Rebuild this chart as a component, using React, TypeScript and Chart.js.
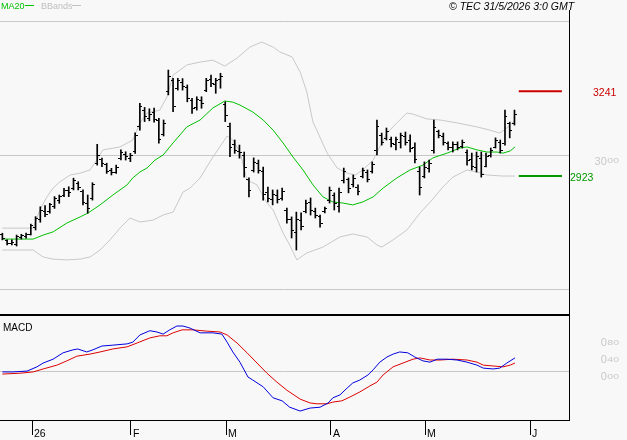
import React, { useEffect, useRef } from 'react';
import { Chart, registerables } from 'chart.js';

Chart.register(...registerables);

// ---- Daily price bars (index 0 = first session shown) ----
const HIGH = [
  27.09, 26.84, 26.84, 27.02, 27.05, 27.09, 27.43, 27.71, 28.08, 28.12,
  28.21, 28.46, 28.52, 28.77, 28.83, 29.15, 29.02, 28.71, 28.52, 28.98,
  30.42, 29.90, 29.71, 29.52, 29.64, 30.21, 30.14, 30.08, 30.85, 31.95,
  31.80, 31.75, 31.78, 31.39, 31.33, 33.20, 32.89, 32.89, 32.88, 32.64,
  32.14, 32.20, 32.20, 32.89, 33.01, 32.89, 33.08, 32.01, 31.21, 30.58,
  30.39, 30.13, 29.16, 29.91, 29.83, 29.57, 28.82, 28.71, 28.71, 28.78,
  28.03, 27.70, 27.88, 27.85, 28.33, 28.41, 28.03, 27.77, 28.07, 28.82,
  28.60, 28.78, 29.53, 29.16, 29.27, 28.90, 29.53, 29.46, 29.76, 31.33,
  30.84, 31.03, 30.69, 30.69, 30.84, 30.88, 30.77, 30.47, 29.57, 29.76,
  29.83, 31.33, 30.95, 30.84, 30.51, 30.51, 30.51, 30.58, 30.21, 30.09,
  30.13, 30.13, 30.09, 30.28, 30.66, 30.58, 31.70, 31.25, 31.70,
];
const LOW = [
  26.84, 26.65, 26.65, 26.61, 26.87, 26.90, 27.02, 27.21, 27.50, 27.71,
  27.84, 28.02, 28.21, 28.46, 28.46, 28.71, 28.71, 28.15, 27.84, 28.33,
  29.64, 29.58, 29.33, 29.27, 29.33, 29.83, 29.83, 29.77, 30.08, 30.95,
  31.27, 31.30, 31.25, 30.46, 30.73, 32.27, 31.64, 32.45, 32.45, 32.01,
  31.58, 31.70, 31.77, 32.39, 32.58, 32.33, 32.52, 31.27, 29.96, 30.08,
  29.90, 29.19, 28.45, 29.38, 29.34, 28.33, 28.26, 28.15, 28.22, 28.33,
  27.47, 26.91, 26.46, 27.21, 27.85, 27.77, 27.66, 27.32, 27.85, 28.22,
  27.96, 27.88, 28.97, 28.60, 28.82, 28.52, 29.16, 29.01, 29.34, 30.02,
  30.39, 30.58, 30.32, 30.21, 30.28, 30.39, 30.13, 29.72, 28.52, 29.16,
  29.38, 30.09, 30.66, 30.39, 30.21, 30.13, 30.21, 30.28, 29.64, 29.46,
  29.38, 29.19, 29.57, 29.94, 30.28, 30.09, 30.39, 30.66, 31.14,
];
const OPEN = [
  27.05, 26.80, 26.70, 26.65, 26.92, 26.98, 27.05, 27.30, 27.60, 27.90,
  27.90, 28.10, 28.30, 28.50, 28.70, 28.75, 28.95, 28.65, 28.20, 28.40,
  29.70, 29.85, 29.65, 29.45, 29.35, 29.90, 30.05, 29.90, 30.15, 31.10,
  31.70, 31.40, 31.60, 31.30, 30.80, 32.40, 32.80, 32.50, 32.75, 32.55,
  32.05, 31.80, 32.05, 32.45, 32.85, 32.65, 32.85, 31.90, 31.10, 30.40,
  30.15, 30.00, 29.10, 29.45, 29.70, 29.40, 28.60, 28.35, 28.50, 28.40,
  27.95, 27.60, 27.10, 27.55, 27.90, 28.25, 27.90, 27.70, 27.90, 28.30,
  28.50, 28.10, 29.05, 29.10, 28.90, 28.80, 29.20, 29.35, 29.40, 30.20,
  30.75, 30.65, 30.60, 30.40, 30.50, 30.70, 30.55, 30.30, 29.40, 29.20,
  29.50, 30.20, 30.90, 30.70, 30.45, 30.30, 30.40, 30.35, 30.10, 29.85,
  29.55, 29.90, 29.60, 30.00, 30.30, 30.50, 30.45, 31.20, 31.20,
];
const CLOSE = [
  26.90, 26.70, 26.75, 26.95, 27.00, 27.05, 27.38, 27.65, 27.95, 27.80,
  28.15, 28.40, 28.45, 28.70, 28.60, 29.05, 28.80, 28.25, 28.00, 28.90,
  30.00, 29.70, 29.40, 29.35, 29.55, 30.10, 29.95, 30.00, 30.75, 31.85,
  31.45, 31.55, 31.35, 30.60, 31.20, 32.95, 31.85, 32.80, 32.60, 32.15,
  31.75, 32.10, 31.95, 32.80, 32.70, 32.80, 32.95, 31.50, 30.30, 30.20,
  30.10, 29.55, 28.70, 29.75, 29.45, 28.55, 28.40, 28.55, 28.35, 28.65,
  27.60, 27.20, 27.60, 27.35, 28.20, 27.95, 27.75, 27.45, 28.00, 28.70,
  28.20, 28.60, 29.40, 28.75, 29.15, 28.65, 29.45, 29.10, 29.65, 31.10,
  30.50, 30.90, 30.45, 30.60, 30.75, 30.50, 30.25, 29.85, 28.80, 29.55,
  29.70, 31.05, 30.75, 30.50, 30.30, 30.40, 30.30, 30.50, 29.80, 29.60,
  29.95, 29.30, 29.95, 30.20, 30.55, 30.20, 31.45, 30.95, 31.55,
];

// ---- Indicators: [bar index, value] ----
const MA20_LINE: [number, number][] = [
  [0, 26.87], [6.5, 26.87], [8.6, 27.02], [10.7, 27.14], [13.6, 27.47], [16.4, 27.70],
  [18.1, 27.85], [20.6, 28.15], [23.3, 28.52], [26.3, 28.90], [27.5, 29.16], [29.0, 29.38],
  [30.5, 29.53], [32.2, 29.83], [33.9, 30.02], [36.0, 30.47], [38.9, 31.07], [41.7, 31.33],
  [44.4, 31.78], [46.9, 32.04], [48.6, 32.00], [50.1, 31.89], [52.8, 31.63], [55.0, 31.33],
  [57.1, 30.95], [59.2, 30.47], [61.3, 29.94], [63.4, 29.46], [65.5, 28.90], [67.6, 28.45],
  [69.7, 28.26], [71.8, 28.22], [73.9, 28.15], [76.0, 28.26], [78.2, 28.45], [80.3, 28.78],
  [83.2, 29.16], [86.0, 29.46], [88.7, 29.64], [90.8, 29.91], [93.8, 30.09], [96.5, 30.28],
  [98.0, 30.32], [100.1, 30.21], [102.2, 30.13], [104.3, 30.13], [105.6, 30.09],
  [107.1, 30.17], [108.1, 30.32],
];
const BB_UPPER: [number, number][] = [
  [0, 27.28], [6.5, 27.28], [7.9, 27.96], [9.4, 28.45], [10.7, 28.78], [12.1, 29.01],
  [14.3, 29.27], [16.4, 29.34], [18.5, 29.46], [19.9, 29.83], [21.2, 30.21], [24.8, 30.32],
  [27.5, 30.58], [29.0, 31.21], [30.5, 31.59], [33.2, 31.70], [34.7, 32.19], [36.0, 33.01],
  [38.9, 33.39], [41.7, 33.50], [44.4, 33.57], [46.9, 33.35], [49.5, 33.65], [52.2, 34.06],
  [54.7, 34.25], [57.1, 34.06], [58.5, 33.88], [61.1, 33.69], [62.8, 33.13], [64.2, 32.38],
  [65.5, 31.25], [66.3, 30.95], [68.5, 30.09], [70.6, 29.53], [72.7, 29.34], [74.4, 29.27],
  [76.0, 29.46], [78.2, 29.83], [79.6, 30.32], [81.1, 30.84], [83.2, 31.22], [85.3, 31.59],
  [86.6, 31.55], [89.5, 31.37], [92.3, 31.33], [95.9, 31.22], [100.1, 31.07], [102.8, 30.95],
  [104.9, 30.84], [106.4, 31.03], [108.1, 31.33],
];
const BB_LOWER: [number, number][] = [
  [0, 26.46], [6.5, 26.46], [8.6, 26.20], [10.7, 26.12], [13.6, 26.09], [16.4, 26.12],
  [18.5, 26.20], [20.6, 26.46], [22.7, 26.84], [24.8, 27.28], [26.9, 27.66], [29.0, 27.51],
  [31.8, 27.58], [33.9, 27.77], [36.0, 27.88], [38.1, 28.63], [39.6, 28.78], [41.7, 29.16],
  [44.4, 29.94], [47.4, 30.73], [48.6, 30.58], [50.1, 30.13], [51.6, 29.08], [53.7, 28.90],
  [55.8, 28.22], [57.1, 27.96], [59.2, 27.10], [60.6, 26.65], [62.1, 26.09], [64.2, 26.35],
  [67.6, 26.57], [71.2, 26.95], [73.9, 27.06], [76.9, 26.95], [79.0, 26.65], [80.0, 26.57],
  [82.4, 26.84], [85.3, 27.21], [88.1, 27.85], [90.6, 28.33], [92.9, 28.82], [95.0, 29.19],
  [98.0, 29.46], [100.1, 29.38], [102.2, 29.27], [105.6, 29.23], [108.1, 29.23],
];
const MACD_LINE: [number, number][] = [
  [0, -0.01], [2.2, -0.01], [5.2, 0.01], [7.3, 0.11], [8.6, 0.20], [10.7, 0.29], [12.8, 0.44],
  [14.9, 0.51], [15.9, 0.53], [17.8, 0.46], [19.1, 0.51], [21.0, 0.60], [23.3, 0.62],
  [26.3, 0.65], [27.5, 0.69], [29.0, 0.86], [31.1, 0.96], [32.6, 0.93], [33.9, 0.88],
  [35.3, 0.98], [36.8, 1.07], [38.1, 1.07], [39.6, 1.02], [41.7, 0.91], [44.4, 0.91],
  [46.3, 0.88], [47.4, 0.69], [48.6, 0.46], [50.1, 0.22], [51.8, -0.13], [52.8, -0.20],
  [55.0, -0.36], [57.1, -0.62], [59.0, -0.69], [60.6, -0.84], [62.8, -0.93], [64.9, -0.86],
  [67.0, -0.84], [68.7, -0.74], [69.7, -0.62], [71.2, -0.55], [72.7, -0.39], [73.9, -0.27],
  [75.4, -0.20], [77.1, -0.08], [78.2, 0.04], [79.6, 0.22], [81.1, 0.34], [82.4, 0.41],
  [83.8, 0.46], [85.5, 0.44], [87.0, 0.34], [88.7, 0.25], [90.2, 0.22], [91.7, 0.29],
  [93.8, 0.29], [95.9, 0.27], [98.0, 0.22], [100.1, 0.15], [101.4, 0.08], [103.5, 0.06],
  [104.9, 0.08], [106.4, 0.20], [108.1, 0.32],
];
const SIGNAL_LINE: [number, number][] = [
  [0, -0.06], [3.7, -0.04], [6.5, -0.01], [8.6, 0.06], [11.5, 0.15], [13.6, 0.25],
  [15.7, 0.36], [18.5, 0.41], [20.6, 0.46], [23.3, 0.53], [26.3, 0.58], [28.4, 0.67],
  [31.1, 0.79], [33.2, 0.84], [34.7, 0.84], [36.0, 0.91], [37.9, 0.98], [40.2, 0.98],
  [43.1, 0.95], [45.9, 0.93], [47.4, 0.86], [49.5, 0.67], [51.6, 0.44], [53.7, 0.20],
  [55.8, -0.04], [57.9, -0.25], [60.0, -0.44], [62.8, -0.65], [64.9, -0.74], [66.3, -0.76],
  [68.5, -0.76], [69.7, -0.72], [71.6, -0.69], [73.3, -0.60], [75.4, -0.48], [77.5, -0.34],
  [79.0, -0.25], [80.3, -0.08], [82.4, 0.11], [84.5, 0.20], [86.6, 0.29], [88.1, 0.32],
  [90.2, 0.27], [92.3, 0.27], [95.0, 0.29], [98.0, 0.27], [100.1, 0.22], [101.4, 0.15],
  [103.5, 0.13], [105.6, 0.11], [107.1, 0.15], [108.1, 0.20],
];

// ---- Levels, grid and axis labels ----
const RESISTANCE = 32.41;
const SUPPORT = 29.23;
const LEVEL_SPAN = [108.9, 118.0];
const PRICE_GRID = [25, 30, 35];
const PRICE_LABELS = [30];
const MACD_GRID = [0];
const MACD_LABELS = [0.8, 0.4, 0];
const MONTH_TICKS = [6.25, 27.1, 47.2, 69.3, 89.2, 111.3];
const MONTH_LABELS = ['26', 'F', 'M', 'A', 'M', 'J'];
const COPYRIGHT = '\u00A9 TEC 31/5/2026 3:0 GMT';

const X_MIN = -0.5;
const X_MAX = 119.5;
const PRICE_MIN = 24.1016;
const PRICE_MAX = 35.449;
const MACD_MIN = -1.141;
const MACD_MAX = 1.306;

const FONT = '"Liberation Sans", Arial, sans-serif';
const toXY = (pts: [number, number][]) => pts.map(([x, y]) => ({ x, y }));

// value like 30 -> "30" with raised "00"
function drawDecimalLabel(ctx: CanvasRenderingContext2D, value: number, right: number, baseline: number, color: string) {
  const [whole, frac] = value.toFixed(2).split('.');
  ctx.save();
  ctx.fillStyle = color;
  ctx.textAlign = 'right';
  ctx.textBaseline = 'alphabetic';
  ctx.font = `10.5px ${FONT}`;
  const fracW = ctx.measureText(frac).width;
  ctx.save();
  ctx.translate(right, baseline - 1.7);
  ctx.scale(1, 0.65);
  ctx.fillText(frac, 0, 0);
  ctx.restore();
  ctx.font = `11px ${FONT}`;
  ctx.fillText(whole, right - fracW - 0.5, baseline);
  ctx.restore();
}

const ohlcTicks = {
  id: 'ohlcTicks',
  afterDatasetsDraw(chart: any) {
    const { ctx } = chart;
    const xs = chart.scales.x;
    const ys = chart.scales.y;
    ctx.save();
    ctx.fillStyle = '#000';
    for (let i = 0; i < HIGH.length; i++) {
      const c = Math.round(xs.getPixelForValue(i) - 0.5);
      ctx.fillRect(c - 2, Math.round(ys.getPixelForValue(OPEN[i]) - 0.5), 2, 1);
      ctx.fillRect(c + 1, Math.round(ys.getPixelForValue(CLOSE[i]) - 0.5), 2, 1);
    }
    ctx.restore();
  },
};

const mainDecor = {
  id: 'mainDecor',
  afterDraw(chart: any) {
    const { ctx, chartArea } = chart;
    const ys = chart.scales.y;
    ctx.save();
    // legend
    ctx.textBaseline = 'alphabetic';
    ctx.textAlign = 'left';
    ctx.font = `9px ${FONT}`;
    ctx.fillStyle = '#00c000';
    ctx.fillText('MA20', 1, 9);
    ctx.fillRect(25, 5, 9, 1);
    ctx.fillStyle = '#c0c0c0';
    ctx.fillText('BBands', 41, 9);
    ctx.fillRect(72, 5, 9, 1);
    // source stamp
    ctx.fillStyle = '#000';
    ctx.font = `italic 10.5px ${FONT}`;
    ctx.fillText(COPYRIGHT, 449, 10);
    // level labels
    ctx.font = `10.5px ${FONT}`;
    ctx.fillStyle = '#cc0000';
    ctx.fillText(RESISTANCE.toFixed(2).replace('.', ''), 593, Math.round(ys.getPixelForValue(RESISTANCE)) + 5);
    ctx.fillStyle = '#009900';
    ctx.fillText(SUPPORT.toFixed(2).replace('.', ''), 570, Math.round(ys.getPixelForValue(SUPPORT)) + 5);
    // panel bottom edge
    ctx.fillStyle = '#000';
    ctx.fillRect(0, 314, chartArea.right + 1, 2);
    ctx.restore();
    PRICE_LABELS.forEach((v) => drawDecimalLabel(ctx, v, 619, ys.getPixelForValue(v) + 9.5, '#c8c8c8'));
  },
};

const macdDecor = {
  id: 'macdDecor',
  afterDraw(chart: any) {
    const { ctx } = chart;
    const xs = chart.scales.x;
    const ys = chart.scales.y;
    ctx.save();
    ctx.fillStyle = '#000';
    ctx.textAlign = 'left';
    ctx.textBaseline = 'alphabetic';
    ctx.font = `10px ${FONT}`;
    ctx.fillText('MACD', 3, 15);
    ctx.font = `10.5px ${FONT}`;
    MONTH_TICKS.forEach((t, i) => {
      ctx.fillText(MONTH_LABELS[i], Math.round(xs.getPixelForValue(t)) + 2, 121);
    });
    ctx.restore();
    MACD_LABELS.forEach((v) => drawDecimalLabel(ctx, v, 619, ys.getPixelForValue(v) + 8.7, '#c8c8c8'));
  },
};

export default function App() {
  const mainRef = useRef<HTMLCanvasElement>(null);
  const macdRef = useRef<HTMLCanvasElement>(null);

  useEffect(() => {
    const main = new Chart(mainRef.current as HTMLCanvasElement, {
      type: 'bar',
      data: {
        datasets: [
          {
            type: 'bar',
            label: 'Range',
            data: HIGH.map((h, i) => ({ x: i, y: [LOW[i], h] })) as any,
            backgroundColor: '#000',
            barThickness: 1,
            grouped: false,
            order: 0,
          } as any,
          {
            type: 'line',
            label: 'MA20',
            data: toXY(MA20_LINE),
            borderColor: '#00c000',
            borderWidth: 1,
            pointRadius: 0,
            order: 2,
          },
          {
            type: 'line',
            label: 'BB upper',
            data: toXY(BB_UPPER),
            borderColor: '#c8c8c8',
            borderWidth: 1,
            pointRadius: 0,
            order: 3,
          },
          {
            type: 'line',
            label: 'BB lower',
            data: toXY(BB_LOWER),
            borderColor: '#c8c8c8',
            borderWidth: 1,
            pointRadius: 0,
            order: 3,
          },
          {
            type: 'line',
            label: 'Resistance',
            data: LEVEL_SPAN.map((x) => ({ x, y: RESISTANCE })),
            borderColor: '#cc0000',
            borderWidth: 2,
            pointRadius: 0,
            order: 1,
          },
          {
            type: 'line',
            label: 'Support',
            data: LEVEL_SPAN.map((x) => ({ x, y: SUPPORT })),
            borderColor: '#009900',
            borderWidth: 2,
            pointRadius: 0,
            order: 1,
          },
        ],
      },
      options: {
        responsive: false,
        animation: false,
        devicePixelRatio: 1,
        events: [],
        layout: { padding: { top: 10, bottom: 3, left: 0, right: 0 } },
        plugins: { legend: { display: false }, tooltip: { enabled: false } },
        scales: {
          x: { type: 'linear', min: X_MIN, max: X_MAX, display: false, offset: false },
          y: {
            type: 'linear',
            position: 'right',
            min: PRICE_MIN,
            max: PRICE_MAX,
            afterFit: (s: any) => { s.width = 58; },
            afterBuildTicks: (s: any) => { s.ticks = PRICE_GRID.map((value) => ({ value })); },
            ticks: { display: false },
            grid: { color: '#c8c8c8', drawTicks: false, lineWidth: 1 },
            border: { display: true, color: '#000', width: 1 },
          },
        },
      } as any,
      plugins: [ohlcTicks, mainDecor],
    });

    const macd = new Chart(macdRef.current as HTMLCanvasElement, {
      type: 'line',
      data: {
        datasets: [
          {
            label: 'MACD',
            data: toXY(MACD_LINE),
            borderColor: '#0000dd',
            borderWidth: 1,
            pointRadius: 0,
            order: 0,
          },
          {
            label: 'Signal',
            data: toXY(SIGNAL_LINE),
            borderColor: '#dd0000',
            borderWidth: 1,
            pointRadius: 0,
            order: 1,
          },
        ],
      },
      options: {
        responsive: false,
        animation: false,
        devicePixelRatio: 1,
        events: [],
        layout: { padding: 0 },
        plugins: { legend: { display: false }, tooltip: { enabled: false } },
        scales: {
          x: {
            type: 'linear',
            min: X_MIN,
            max: X_MAX,
            offset: false,
            afterFit: (s: any) => { s.height = 20; },
            afterBuildTicks: (s: any) => { s.ticks = MONTH_TICKS.map((value) => ({ value })); },
            ticks: { display: false },
            grid: { display: true, drawOnChartArea: false, drawTicks: true, tickLength: 15, color: '#000' },
            border: { display: true, color: '#000', width: 1 },
          },
          y: {
            type: 'linear',
            position: 'right',
            min: MACD_MIN,
            max: MACD_MAX,
            afterFit: (s: any) => { s.width = 58; },
            afterBuildTicks: (s: any) => { s.ticks = MACD_GRID.map((value) => ({ value })); },
            ticks: { display: false },
            grid: { color: '#c8c8c8', drawTicks: false },
            border: { display: true, color: '#000', width: 1 },
          },
        },
      } as any,
      plugins: [macdDecor],
    });

    return () => {
      main.destroy();
      macd.destroy();
    };
  }, []);

  return (
    <div style={{ position: 'absolute', left: 0, top: 0, width: 627, height: 440, background: '#f8f8f8', overflow: 'hidden' }}>
      <canvas ref={mainRef} width={627} height={316} style={{ position: 'absolute', left: 0, top: 0, width: 627, height: 316 }} />
      <canvas ref={macdRef} width={627} height={124} style={{ position: 'absolute', left: 0, top: 316, width: 627, height: 124 }} />
    </div>
  );
}
